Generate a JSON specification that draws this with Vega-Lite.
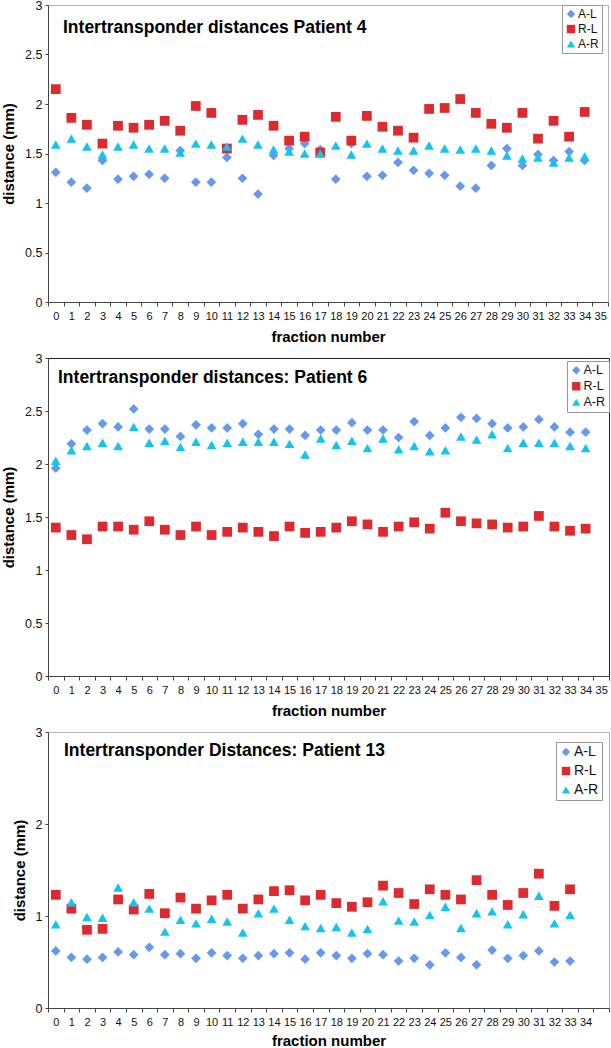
{
  "$schema": "https://vega.github.io/schema/vega-lite/v6.json",
  "background": "white",
  "padding": {"left": 1, "top": -2, "right": 0, "bottom": 0},
  "spacing": 56,
  "bounds": "flush",
  "config": {
    "font": "Liberation Sans",
    "axis": {"domainColor": "#444", "tickColor": "#444", "labelColor": "#111", "titleColor": "#000", "grid": false, "labelFontSize": 12.5, "titleFontSize": 15, "titleFontWeight": "bold", "tickSize": 4},
    "axisX": {"labelFontSize": 11, "labelAngle": 0, "labelPadding": 4, "titlePadding": 8},
    "axisY": {"labelPadding": 3, "titlePadding": 8, "tickSize": 3},
    "view": {"stroke": "#b5b5b5"},
    "point": {"filled": true, "size": 95, "opacity": 1},
    "legend": {"title": null, "fillColor": "white", "strokeColor": "#999", "padding": 3, "labelFontSize": 12, "symbolSize": 70, "rowPadding": 3, "labelColor": "#111", "symbolStrokeWidth": 0, "labelOffset": 1}
  },
  "resolve": {"scale": {"color": "independent", "shape": "independent"}, "legend": {"color": "independent", "shape": "independent"}},
  "datasets": {
    "p4": [
      {"f":0,"s":"A-L","v":1.31},{"f":1,"s":"A-L","v":1.21},{"f":2,"s":"A-L","v":1.15},{"f":3,"s":"A-L","v":1.43},{"f":4,"s":"A-L","v":1.24},{"f":5,"s":"A-L","v":1.27},{"f":6,"s":"A-L","v":1.29},{"f":7,"s":"A-L","v":1.25},{"f":8,"s":"A-L","v":1.53},{"f":9,"s":"A-L","v":1.21},{"f":10,"s":"A-L","v":1.21},{"f":11,"s":"A-L","v":1.46},{"f":12,"s":"A-L","v":1.25},{"f":13,"s":"A-L","v":1.09},{"f":14,"s":"A-L","v":1.48},{"f":15,"s":"A-L","v":1.55},{"f":16,"s":"A-L","v":1.60},{"f":17,"s":"A-L","v":1.54},{"f":18,"s":"A-L","v":1.24},{"f":19,"s":"A-L","v":1.60},{"f":20,"s":"A-L","v":1.27},{"f":21,"s":"A-L","v":1.28},{"f":22,"s":"A-L","v":1.41},{"f":23,"s":"A-L","v":1.33},{"f":24,"s":"A-L","v":1.30},{"f":25,"s":"A-L","v":1.28},{"f":26,"s":"A-L","v":1.17},{"f":27,"s":"A-L","v":1.15},{"f":28,"s":"A-L","v":1.38},{"f":29,"s":"A-L","v":1.55},{"f":30,"s":"A-L","v":1.38},{"f":31,"s":"A-L","v":1.49},{"f":32,"s":"A-L","v":1.43},{"f":33,"s":"A-L","v":1.52},{"f":34,"s":"A-L","v":1.43},
      {"f":0,"s":"R-L","v":2.15},{"f":1,"s":"R-L","v":1.86},{"f":2,"s":"R-L","v":1.79},{"f":3,"s":"R-L","v":1.60},{"f":4,"s":"R-L","v":1.78},{"f":5,"s":"R-L","v":1.76},{"f":6,"s":"R-L","v":1.79},{"f":7,"s":"R-L","v":1.83},{"f":8,"s":"R-L","v":1.73},{"f":9,"s":"R-L","v":1.98},{"f":10,"s":"R-L","v":1.91},{"f":11,"s":"R-L","v":1.55},{"f":12,"s":"R-L","v":1.84},{"f":13,"s":"R-L","v":1.89},{"f":14,"s":"R-L","v":1.78},{"f":15,"s":"R-L","v":1.63},{"f":16,"s":"R-L","v":1.67},{"f":17,"s":"R-L","v":1.51},{"f":18,"s":"R-L","v":1.87},{"f":19,"s":"R-L","v":1.63},{"f":20,"s":"R-L","v":1.88},{"f":21,"s":"R-L","v":1.77},{"f":22,"s":"R-L","v":1.73},{"f":23,"s":"R-L","v":1.66},{"f":24,"s":"R-L","v":1.95},{"f":25,"s":"R-L","v":1.96},{"f":26,"s":"R-L","v":2.05},{"f":27,"s":"R-L","v":1.91},{"f":28,"s":"R-L","v":1.80},{"f":29,"s":"R-L","v":1.76},{"f":30,"s":"R-L","v":1.91},{"f":31,"s":"R-L","v":1.65},{"f":32,"s":"R-L","v":1.83},{"f":33,"s":"R-L","v":1.67},{"f":34,"s":"R-L","v":1.92},
      {"f":0,"s":"A-R","v":1.59},{"f":1,"s":"A-R","v":1.65},{"f":2,"s":"A-R","v":1.57},{"f":3,"s":"A-R","v":1.49},{"f":4,"s":"A-R","v":1.57},{"f":5,"s":"A-R","v":1.59},{"f":6,"s":"A-R","v":1.55},{"f":7,"s":"A-R","v":1.55},{"f":8,"s":"A-R","v":1.51},{"f":9,"s":"A-R","v":1.60},{"f":10,"s":"A-R","v":1.59},{"f":11,"s":"A-R","v":1.57},{"f":12,"s":"A-R","v":1.65},{"f":13,"s":"A-R","v":1.59},{"f":14,"s":"A-R","v":1.54},{"f":15,"s":"A-R","v":1.52},{"f":16,"s":"A-R","v":1.50},{"f":17,"s":"A-R","v":1.50},{"f":18,"s":"A-R","v":1.58},{"f":19,"s":"A-R","v":1.49},{"f":20,"s":"A-R","v":1.60},{"f":21,"s":"A-R","v":1.55},{"f":22,"s":"A-R","v":1.53},{"f":23,"s":"A-R","v":1.53},{"f":24,"s":"A-R","v":1.58},{"f":25,"s":"A-R","v":1.55},{"f":26,"s":"A-R","v":1.54},{"f":27,"s":"A-R","v":1.55},{"f":28,"s":"A-R","v":1.53},{"f":29,"s":"A-R","v":1.48},{"f":30,"s":"A-R","v":1.45},{"f":31,"s":"A-R","v":1.46},{"f":32,"s":"A-R","v":1.41},{"f":33,"s":"A-R","v":1.46},{"f":34,"s":"A-R","v":1.47}
    ],
    "p6": [
      {"f":0,"s":"A-L","v":1.96},{"f":1,"s":"A-L","v":2.19},{"f":2,"s":"A-L","v":2.32},{"f":3,"s":"A-L","v":2.38},{"f":4,"s":"A-L","v":2.35},{"f":5,"s":"A-L","v":2.52},{"f":6,"s":"A-L","v":2.33},{"f":7,"s":"A-L","v":2.33},{"f":8,"s":"A-L","v":2.26},{"f":9,"s":"A-L","v":2.37},{"f":10,"s":"A-L","v":2.34},{"f":11,"s":"A-L","v":2.34},{"f":12,"s":"A-L","v":2.38},{"f":13,"s":"A-L","v":2.28},{"f":14,"s":"A-L","v":2.33},{"f":15,"s":"A-L","v":2.33},{"f":16,"s":"A-L","v":2.27},{"f":17,"s":"A-L","v":2.32},{"f":18,"s":"A-L","v":2.32},{"f":19,"s":"A-L","v":2.39},{"f":20,"s":"A-L","v":2.32},{"f":21,"s":"A-L","v":2.32},{"f":22,"s":"A-L","v":2.25},{"f":23,"s":"A-L","v":2.40},{"f":24,"s":"A-L","v":2.27},{"f":25,"s":"A-L","v":2.34},{"f":26,"s":"A-L","v":2.44},{"f":27,"s":"A-L","v":2.43},{"f":28,"s":"A-L","v":2.38},{"f":29,"s":"A-L","v":2.34},{"f":30,"s":"A-L","v":2.35},{"f":31,"s":"A-L","v":2.42},{"f":32,"s":"A-L","v":2.35},{"f":33,"s":"A-L","v":2.30},{"f":34,"s":"A-L","v":2.30},
      {"f":0,"s":"R-L","v":1.40},{"f":1,"s":"R-L","v":1.33},{"f":2,"s":"R-L","v":1.29},{"f":3,"s":"R-L","v":1.41},{"f":4,"s":"R-L","v":1.41},{"f":5,"s":"R-L","v":1.38},{"f":6,"s":"R-L","v":1.46},{"f":7,"s":"R-L","v":1.38},{"f":8,"s":"R-L","v":1.33},{"f":9,"s":"R-L","v":1.41},{"f":10,"s":"R-L","v":1.33},{"f":11,"s":"R-L","v":1.36},{"f":12,"s":"R-L","v":1.40},{"f":13,"s":"R-L","v":1.36},{"f":14,"s":"R-L","v":1.32},{"f":15,"s":"R-L","v":1.41},{"f":16,"s":"R-L","v":1.35},{"f":17,"s":"R-L","v":1.36},{"f":18,"s":"R-L","v":1.40},{"f":19,"s":"R-L","v":1.46},{"f":20,"s":"R-L","v":1.43},{"f":21,"s":"R-L","v":1.36},{"f":22,"s":"R-L","v":1.41},{"f":23,"s":"R-L","v":1.45},{"f":24,"s":"R-L","v":1.39},{"f":25,"s":"R-L","v":1.54},{"f":26,"s":"R-L","v":1.46},{"f":27,"s":"R-L","v":1.44},{"f":28,"s":"R-L","v":1.43},{"f":29,"s":"R-L","v":1.40},{"f":30,"s":"R-L","v":1.41},{"f":31,"s":"R-L","v":1.51},{"f":32,"s":"R-L","v":1.41},{"f":33,"s":"R-L","v":1.37},{"f":34,"s":"R-L","v":1.39},
      {"f":0,"s":"A-R","v":2.03},{"f":1,"s":"A-R","v":2.13},{"f":2,"s":"A-R","v":2.17},{"f":3,"s":"A-R","v":2.20},{"f":4,"s":"A-R","v":2.17},{"f":5,"s":"A-R","v":2.35},{"f":6,"s":"A-R","v":2.20},{"f":7,"s":"A-R","v":2.22},{"f":8,"s":"A-R","v":2.16},{"f":9,"s":"A-R","v":2.21},{"f":10,"s":"A-R","v":2.18},{"f":11,"s":"A-R","v":2.20},{"f":12,"s":"A-R","v":2.21},{"f":13,"s":"A-R","v":2.21},{"f":14,"s":"A-R","v":2.21},{"f":15,"s":"A-R","v":2.19},{"f":16,"s":"A-R","v":2.09},{"f":17,"s":"A-R","v":2.24},{"f":18,"s":"A-R","v":2.18},{"f":19,"s":"A-R","v":2.22},{"f":20,"s":"A-R","v":2.15},{"f":21,"s":"A-R","v":2.24},{"f":22,"s":"A-R","v":2.14},{"f":23,"s":"A-R","v":2.17},{"f":24,"s":"A-R","v":2.12},{"f":25,"s":"A-R","v":2.13},{"f":26,"s":"A-R","v":2.26},{"f":27,"s":"A-R","v":2.23},{"f":28,"s":"A-R","v":2.28},{"f":29,"s":"A-R","v":2.15},{"f":30,"s":"A-R","v":2.20},{"f":31,"s":"A-R","v":2.20},{"f":32,"s":"A-R","v":2.20},{"f":33,"s":"A-R","v":2.17},{"f":34,"s":"A-R","v":2.15}
    ],
    "p13": [
      {"f":0,"s":"A-L","v":0.62},{"f":1,"s":"A-L","v":0.55},{"f":2,"s":"A-L","v":0.53},{"f":3,"s":"A-L","v":0.55},{"f":4,"s":"A-L","v":0.61},{"f":5,"s":"A-L","v":0.58},{"f":6,"s":"A-L","v":0.66},{"f":7,"s":"A-L","v":0.58},{"f":8,"s":"A-L","v":0.59},{"f":9,"s":"A-L","v":0.54},{"f":10,"s":"A-L","v":0.60},{"f":11,"s":"A-L","v":0.57},{"f":12,"s":"A-L","v":0.54},{"f":13,"s":"A-L","v":0.57},{"f":14,"s":"A-L","v":0.59},{"f":15,"s":"A-L","v":0.60},{"f":16,"s":"A-L","v":0.53},{"f":17,"s":"A-L","v":0.60},{"f":18,"s":"A-L","v":0.57},{"f":19,"s":"A-L","v":0.54},{"f":20,"s":"A-L","v":0.59},{"f":21,"s":"A-L","v":0.58},{"f":22,"s":"A-L","v":0.51},{"f":23,"s":"A-L","v":0.54},{"f":24,"s":"A-L","v":0.47},{"f":25,"s":"A-L","v":0.60},{"f":26,"s":"A-L","v":0.55},{"f":27,"s":"A-L","v":0.47},{"f":28,"s":"A-L","v":0.63},{"f":29,"s":"A-L","v":0.54},{"f":30,"s":"A-L","v":0.57},{"f":31,"s":"A-L","v":0.62},{"f":32,"s":"A-L","v":0.50},{"f":33,"s":"A-L","v":0.51},
      {"f":0,"s":"R-L","v":1.23},{"f":1,"s":"R-L","v":1.08},{"f":2,"s":"R-L","v":0.85},{"f":3,"s":"R-L","v":0.86},{"f":4,"s":"R-L","v":1.18},{"f":5,"s":"R-L","v":1.07},{"f":6,"s":"R-L","v":1.24},{"f":7,"s":"R-L","v":1.03},{"f":8,"s":"R-L","v":1.20},{"f":9,"s":"R-L","v":1.08},{"f":10,"s":"R-L","v":1.17},{"f":11,"s":"R-L","v":1.23},{"f":12,"s":"R-L","v":1.08},{"f":13,"s":"R-L","v":1.18},{"f":14,"s":"R-L","v":1.27},{"f":15,"s":"R-L","v":1.28},{"f":16,"s":"R-L","v":1.17},{"f":17,"s":"R-L","v":1.23},{"f":18,"s":"R-L","v":1.14},{"f":19,"s":"R-L","v":1.10},{"f":20,"s":"R-L","v":1.15},{"f":21,"s":"R-L","v":1.33},{"f":22,"s":"R-L","v":1.25},{"f":23,"s":"R-L","v":1.13},{"f":24,"s":"R-L","v":1.29},{"f":25,"s":"R-L","v":1.23},{"f":26,"s":"R-L","v":1.18},{"f":27,"s":"R-L","v":1.39},{"f":28,"s":"R-L","v":1.23},{"f":29,"s":"R-L","v":1.12},{"f":30,"s":"R-L","v":1.25},{"f":31,"s":"R-L","v":1.46},{"f":32,"s":"R-L","v":1.11},{"f":33,"s":"R-L","v":1.29},
      {"f":0,"s":"A-R","v":0.91},{"f":1,"s":"A-R","v":1.15},{"f":2,"s":"A-R","v":0.99},{"f":3,"s":"A-R","v":0.98},{"f":4,"s":"A-R","v":1.31},{"f":5,"s":"A-R","v":1.15},{"f":6,"s":"A-R","v":1.08},{"f":7,"s":"A-R","v":0.83},{"f":8,"s":"A-R","v":0.96},{"f":9,"s":"A-R","v":0.92},{"f":10,"s":"A-R","v":0.97},{"f":11,"s":"A-R","v":0.94},{"f":12,"s":"A-R","v":0.82},{"f":13,"s":"A-R","v":1.03},{"f":14,"s":"A-R","v":1.08},{"f":15,"s":"A-R","v":0.96},{"f":16,"s":"A-R","v":0.89},{"f":17,"s":"A-R","v":0.87},{"f":18,"s":"A-R","v":0.88},{"f":19,"s":"A-R","v":0.82},{"f":20,"s":"A-R","v":0.86},{"f":21,"s":"A-R","v":1.16},{"f":22,"s":"A-R","v":0.95},{"f":23,"s":"A-R","v":0.94},{"f":24,"s":"A-R","v":1.01},{"f":25,"s":"A-R","v":1.10},{"f":26,"s":"A-R","v":0.87},{"f":27,"s":"A-R","v":1.03},{"f":28,"s":"A-R","v":1.05},{"f":29,"s":"A-R","v":0.91},{"f":30,"s":"A-R","v":1.02},{"f":31,"s":"A-R","v":1.22},{"f":32,"s":"A-R","v":0.92},{"f":33,"s":"A-R","v":1.01}
    ]
  },
  "vconcat": [
    {
      "width": 560, "height": 297,
      "data": {"name": "p4"},
      "title": {"text": "Intertransponder distances Patient 4", "anchor": "start", "frame": "group", "baseline": "alphabetic", "offset": -51, "dx": 15, "fontSize": 17.5, "fontWeight": "bold", "color": "#000"},
      "mark": {"type": "point"},
      "encoding": {
        "x": {"field": "f", "type": "ordinal", "scale": {"type": "band", "domain": [0,1,2,3,4,5,6,7,8,9,10,11,12,13,14,15,16,17,18,19,20,21,22,23,24,25,26,27,28,29,30,31,32,33,34,35], "paddingInner": 0, "paddingOuter": 0}, "axis": {"title": "fraction number", "tickBand": "extent"}},
        "y": {"field": "v", "type": "quantitative", "scale": {"domain": [0, 3], "nice": false}, "axis": {"title": "distance (mm)", "values": [0, 0.5, 1, 1.5, 2, 2.5, 3], "format": "~g"}},
        "color": {"field": "s", "type": "nominal", "scale": {"domain": ["A-L", "R-L", "A-R"], "range": ["#6699EE", "#DC2B30", "#14C3F0"]}, "legend": {"orient": "none", "legendX": 514, "legendY": 0, "labelFontSize": 12}},
        "shape": {"field": "s", "type": "nominal", "scale": {"domain": ["A-L", "R-L", "A-R"], "range": ["diamond", "square", "triangle-up"]}, "legend": {"orient": "none", "legendX": 514, "legendY": 0, "labelFontSize": 12}}
      }
    },
    {
      "width": 561, "height": 318,
      "data": {"name": "p6"},
      "view": {"stroke": "#222"},
      "title": {"text": "Intertransponder distances: Patient 6", "anchor": "start", "frame": "group", "baseline": "alphabetic", "offset": -48, "dx": 10, "fontSize": 17.5, "fontWeight": "bold", "color": "#000"},
      "mark": {"type": "point"},
      "encoding": {
        "x": {"field": "f", "type": "ordinal", "scale": {"type": "band", "domain": [0,1,2,3,4,5,6,7,8,9,10,11,12,13,14,15,16,17,18,19,20,21,22,23,24,25,26,27,28,29,30,31,32,33,34,35], "paddingInner": 0, "paddingOuter": 0}, "axis": {"title": "fraction number", "tickBand": "extent"}},
        "y": {"field": "v", "type": "quantitative", "scale": {"domain": [0, 3], "nice": false}, "axis": {"title": "distance (mm)", "values": [0, 0.5, 1, 1.5, 2, 2.5, 3], "format": "~g"}},
        "color": {"field": "s", "type": "nominal", "scale": {"domain": ["A-L", "R-L", "A-R"], "range": ["#6699EE", "#DC2B30", "#14C3F0"]}, "legend": {"orient": "none", "legendX": 519, "legendY": 3, "labelFontSize": 12.5}},
        "shape": {"field": "s", "type": "nominal", "scale": {"domain": ["A-L", "R-L", "A-R"], "range": ["diamond", "square", "triangle-up"]}, "legend": {"orient": "none", "legendX": 519, "legendY": 3, "labelFontSize": 12.5}}
      }
    },
    {
      "width": 561, "height": 276,
      "data": {"name": "p13"},
      "title": {"text": "Intertransponder Distances: Patient 13", "anchor": "start", "frame": "group", "baseline": "alphabetic", "offset": -47, "dx": 16, "fontSize": 17.5, "fontWeight": "bold", "color": "#000"},
      "mark": {"type": "point"},
      "encoding": {
        "x": {"field": "f", "type": "ordinal", "scale": {"type": "band", "domain": [0,1,2,3,4,5,6,7,8,9,10,11,12,13,14,15,16,17,18,19,20,21,22,23,24,25,26,27,28,29,30,31,32,33,34,35], "paddingInner": 0, "paddingOuter": 0}, "axis": {"title": "fraction number", "tickBand": "extent", "titlePadding": 6, "labelExpr": "datum.value == 35 ? '' : datum.label"}},
        "y": {"field": "v", "type": "quantitative", "scale": {"domain": [0, 3], "nice": false}, "axis": {"title": "distance (mm)", "values": [0, 1, 2, 3], "format": "~g"}},
        "color": {"field": "s", "type": "nominal", "scale": {"domain": ["A-L", "R-L", "A-R"], "range": ["#6699EE", "#DC2B30", "#14C3F0"]}, "legend": {"orient": "none", "legendX": 508, "legendY": 10, "labelFontSize": 14, "rowPadding": 5}},
        "shape": {"field": "s", "type": "nominal", "scale": {"domain": ["A-L", "R-L", "A-R"], "range": ["diamond", "square", "triangle-up"]}, "legend": {"orient": "none", "legendX": 508, "legendY": 10, "labelFontSize": 14, "rowPadding": 5}}
      }
    }
  ]
}
